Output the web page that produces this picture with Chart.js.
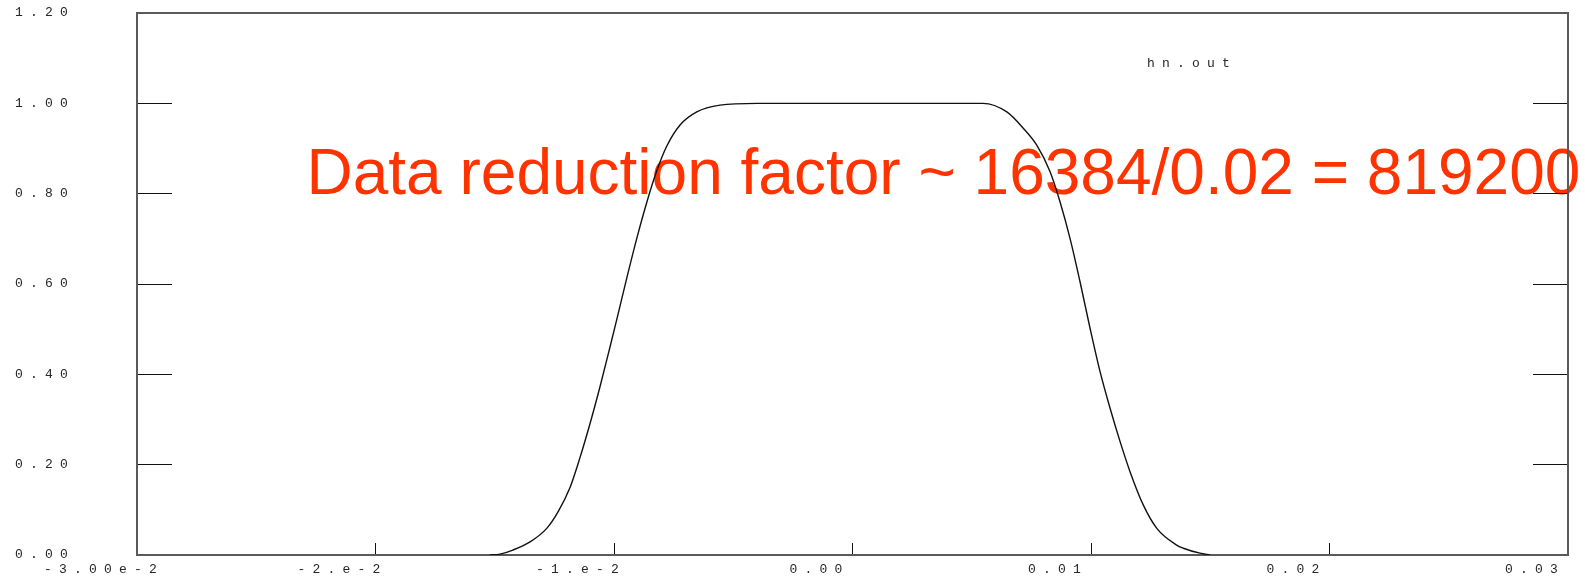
<!DOCTYPE html>
<html>
<head>
<meta charset="utf-8">
<script src="https://cdn.jsdelivr.net/npm/chart.js@4.4.1/dist/chart.umd.min.js"></script>
<style>
  html, body { margin: 0; padding: 0; background: #ffffff; }
  #wrap { width: 1585px; height: 576px; }
</style>
</head>
<body>
<div id="wrap"><canvas id="c" width="1585" height="576"></canvas></div>
<script>
// Filter response from hn.out
const seriesName = 'hn.out';
const noteText = 'Data reduction factor ~ 16384/0.02 = 819200';

const xValues = [
  -0.01520, -0.01478, -0.01424, -0.01352, -0.01282, -0.01234, -0.01184, -0.01143,
  -0.01101, -0.01059, -0.01017, -0.00989, -0.00947, -0.00905, -0.00863, -0.00821,
  -0.00779, -0.00723, -0.00653, -0.00556, -0.00400, 0.00000, 0.00400, 0.00547,
  0.00647, 0.00716, 0.00772, 0.00828, 0.00870, 0.00912, 0.00954, 0.00996,
  0.01038, 0.01080, 0.01122, 0.01164, 0.01219, 0.01276, 0.01359, 0.01387,
  0.01457, 0.01499
];
const yValues = [
  0.000, 0.002, 0.011, 0.029, 0.059, 0.096, 0.150, 0.215,
  0.290, 0.372, 0.460, 0.520, 0.612, 0.700, 0.780, 0.850,
  0.905, 0.952, 0.981, 0.996, 1.000, 1.000, 1.000, 1.000,
  0.981, 0.945, 0.908, 0.849, 0.782, 0.701, 0.605, 0.502,
  0.406, 0.325, 0.251, 0.184, 0.111, 0.059, 0.022, 0.015,
  0.004, 0.000
];

const xTickValues = [-0.03, -0.02, -0.01, 0, 0.01, 0.02, 0.03];
const xTickLabels = ['-3.00e-2', '-2.e-2', '-1.e-2', '0.00', '0.01', '0.02', '0.03'];
const yTickValues = [0, 0.2, 0.4, 0.6, 0.8, 1.0, 1.2];
const yTickLabels = ['0.00', '0.20', '0.40', '0.60', '0.80', '1.00', '1.20'];

const MONO = { family: '"Liberation Mono", "DejaVu Sans Mono", monospace', size: 13 };
const MONO_CSS = '13px "Liberation Mono", "DejaVu Sans Mono", monospace';
const SPACING = '7.2px';
const FRAME = '#5a5a5a';
const INK = '#262626';

const points = xValues.map((x, i) => ({ x, y: yValues[i] }));

function setTicks(values) {
  return (scale) => { scale.ticks = values.map(v => ({ value: v })); };
}

// Fixed axis band sizes; label overflow must not shrink the plot frame
function fixBand(prop, size) {
  return (s) => {
    s[prop] = size;
    s.paddingTop = 0;
    s.paddingBottom = 0;
    s.paddingLeft = 0;
    s.paddingRight = 0;
  };
}

// Wide, spaced-out lettering for the axis text; red note sits beneath the frame and curve
const textPlugin = {
  id: 'plotText',
  beforeDraw(chart) {
    const ctx = chart.ctx;
    ctx.save();
    ctx.letterSpacing = '0px';
    ctx.font = '64px "Liberation Sans", Arial, sans-serif';
    ctx.fillStyle = '#ff3300';
    ctx.textAlign = 'left';
    ctx.textBaseline = 'alphabetic';
    ctx.fillText(noteText, 306.5, 193.5);
    ctx.restore();
    ctx.letterSpacing = SPACING;
  },
  beforeDatasetsDraw(chart) {
    chart.ctx.letterSpacing = '0px';
  },
  afterDraw(chart) {
    const ctx = chart.ctx;
    ctx.save();
    ctx.letterSpacing = SPACING;
    ctx.font = MONO_CSS;
    ctx.fillStyle = INK;
    ctx.textAlign = 'left';
    ctx.textBaseline = 'alphabetic';
    ctx.fillText(seriesName, 1147, 67);
    ctx.restore();
  }
};

new Chart(document.getElementById('c'), {
  type: 'line',
  data: {
    datasets: [{
      label: seriesName,
      data: points,
      borderColor: '#111111',
      borderWidth: 1.4,
      pointRadius: 0,
      fill: false,
      cubicInterpolationMode: 'monotone'
    }]
  },
  options: {
    responsive: false,
    animation: false,
    events: [],
    layout: { padding: 0 },
    plugins: { legend: { display: false }, tooltip: { enabled: false }, title: { display: false } },
    scales: {
      x: {
        type: 'linear',
        position: 'bottom',
        min: -0.03,
        max: 0.03,
        afterBuildTicks: setTicks(xTickValues),
        afterFit: fixBand('height', 21),
        border: { display: true, color: FRAME, width: 2 },
        grid: { drawOnChartArea: false, drawTicks: true, tickLength: -12, tickColor: '#111111', tickWidth: 1 },
        ticks: {
          autoSkip: false,
          maxRotation: 0,
          minRotation: 0,
          padding: 19,
          labelOffset: -33,
          color: INK,
          font: MONO,
          callback: (v, i) => xTickLabels[i]
        }
      },
      xTop: {
        type: 'linear',
        axis: 'x',
        position: 'top',
        min: -0.03,
        max: 0.03,
        afterBuildTicks: setTicks(xTickValues),
        afterFit: fixBand('height', 13),
        border: { display: true, color: FRAME, width: 2 },
        grid: { display: false, drawOnChartArea: false, drawTicks: false },
        ticks: { display: false }
      },
      y: {
        type: 'linear',
        position: 'left',
        min: 0,
        max: 1.2,
        afterBuildTicks: setTicks(yTickValues),
        afterFit: fixBand('width', 137),
        border: { display: true, color: FRAME, width: 2 },
        grid: { drawOnChartArea: false, drawTicks: true, tickLength: -35, tickColor: '#111111', tickWidth: 1 },
        ticks: {
          padding: 97,
          color: INK,
          font: MONO,
          callback: (v, i) => yTickLabels[i]
        }
      },
      yRight: {
        type: 'linear',
        axis: 'y',
        position: 'right',
        min: 0,
        max: 1.2,
        afterBuildTicks: setTicks(yTickValues),
        afterFit: fixBand('width', 17),
        border: { display: true, color: FRAME, width: 2 },
        grid: { drawOnChartArea: false, drawTicks: true, tickLength: -35, tickColor: '#111111', tickWidth: 1 },
        ticks: { display: false }
      }
    }
  },
  plugins: [textPlugin]
});
</script>
</body>
</html>
